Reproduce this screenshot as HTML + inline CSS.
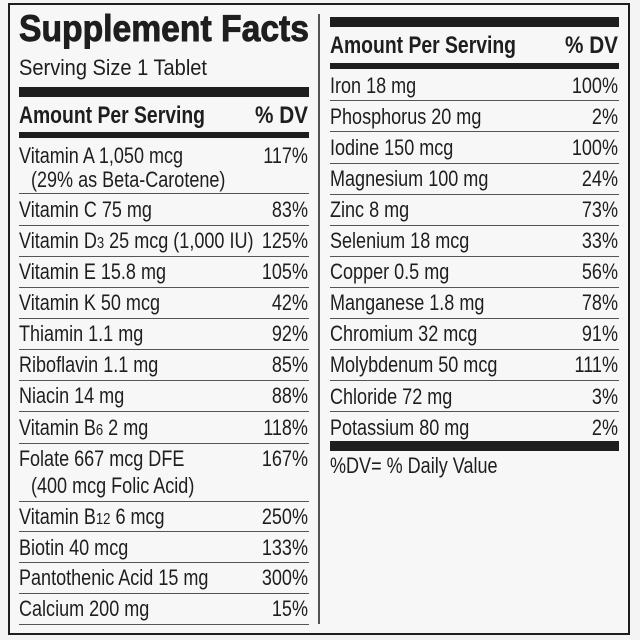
<!DOCTYPE html>
<html><head><meta charset="utf-8"><style>
html,body{margin:0;padding:0;background:#f4f4f4;}
svg{display:block}
text{font-family:"Liberation Sans",sans-serif;fill:#1e1e1e;font-size:22px}
.b{font-weight:bold}
.r{text-anchor:end}
</style></head><body>
<svg width="640" height="640" viewBox="0 0 640 640" xmlns="http://www.w3.org/2000/svg">
<rect x="0" y="0" width="640" height="640" fill="#f4f4f4"/>
<rect x="9" y="4" width="620" height="630" fill="#f7f7f7" stroke="#1e1e1e" stroke-width="2"/>
<line x1="319" y1="14" x2="319" y2="624" stroke="#1e1e1e" stroke-width="1.5"/>
<text x="19" y="41" style="font-weight:900;font-size:37px" class="b" textLength="290" lengthAdjust="spacingAndGlyphs" stroke="#1e1e1e" stroke-width="0.9">Supplement Facts</text>
<text x="19" y="75" textLength="188" lengthAdjust="spacingAndGlyphs">Serving Size 1 Tablet</text>
<rect x="19" y="87" width="290" height="10" fill="#1e1e1e"/>
<text x="19" y="123" class="b" style="font-size:24px" textLength="186" lengthAdjust="spacingAndGlyphs">Amount Per Serving</text>
<text x="255" y="123" class="b" style="font-size:24px" textLength="53" lengthAdjust="spacingAndGlyphs">% DV</text>
<rect x="19" y="132" width="290" height="6" fill="#1e1e1e"/>
<g stroke="#555" stroke-width="1">
<line x1="19" y1="193.5" x2="309" y2="193.5"/><line x1="19" y1="225.5" x2="309" y2="225.5"/>
<line x1="19" y1="256.5" x2="309" y2="256.5"/><line x1="19" y1="287.5" x2="309" y2="287.5"/>
<line x1="19" y1="318.5" x2="309" y2="318.5"/><line x1="19" y1="349.5" x2="309" y2="349.5"/>
<line x1="19" y1="380.5" x2="309" y2="380.5"/><line x1="19" y1="411.5" x2="309" y2="411.5"/>
<line x1="19" y1="443.5" x2="309" y2="443.5"/><line x1="19" y1="501.5" x2="309" y2="501.5"/>
<line x1="19" y1="531.5" x2="309" y2="531.5"/><line x1="19" y1="562.5" x2="309" y2="562.5"/>
<line x1="19" y1="593.5" x2="309" y2="593.5"/><line x1="19" y1="624.5" x2="309" y2="624.5"/>
</g>
<rect x="330" y="17" width="289" height="10" fill="#1e1e1e"/>
<text x="330" y="53" class="b" style="font-size:24px" textLength="186" lengthAdjust="spacingAndGlyphs">Amount Per Serving</text>
<text x="565" y="53" class="b" style="font-size:24px" textLength="53" lengthAdjust="spacingAndGlyphs">% DV</text>
<rect x="330" y="63" width="289" height="6" fill="#1e1e1e"/>
<g stroke="#555" stroke-width="1">
<line x1="330" y1="100.5" x2="619" y2="100.5"/><line x1="330" y1="131.5" x2="619" y2="131.5"/>
<line x1="330" y1="163.5" x2="619" y2="163.5"/><line x1="330" y1="194.5" x2="619" y2="194.5"/>
<line x1="330" y1="225.5" x2="619" y2="225.5"/><line x1="330" y1="256.5" x2="619" y2="256.5"/>
<line x1="330" y1="287.5" x2="619" y2="287.5"/><line x1="330" y1="318.5" x2="619" y2="318.5"/>
<line x1="330" y1="349.5" x2="619" y2="349.5"/><line x1="330" y1="380.5" x2="619" y2="380.5"/>
<line x1="330" y1="411.5" x2="619" y2="411.5"/>
</g>
<rect x="330" y="441" width="289" height="10" fill="#1e1e1e"/>
<g transform="scale(0.82 1)">
<text x="23.17" y="163">Vitamin A 1,050 mcg</text><text x="375.6" y="163" class="r">117%</text>
<text x="37.8" y="187">(29% as Beta-Carotene)</text>
<text x="23.17" y="217">Vitamin C 75 mg</text><text x="375.6" y="217" class="r">83%</text>
<text x="23.17" y="248">Vitamin D<tspan style="font-size:16px">3</tspan> 25 mcg (1,000 IU)</text><text x="375.6" y="248" class="r">125%</text>
<text x="23.17" y="279">Vitamin E 15.8 mg</text><text x="375.6" y="279" class="r">105%</text>
<text x="23.17" y="310">Vitamin K 50 mcg</text><text x="375.6" y="310" class="r">42%</text>
<text x="23.17" y="341">Thiamin 1.1 mg</text><text x="375.6" y="341" class="r">92%</text>
<text x="23.17" y="372">Riboflavin 1.1 mg</text><text x="375.6" y="372" class="r">85%</text>
<text x="23.17" y="403">Niacin 14 mg</text><text x="375.6" y="403" class="r">88%</text>
<text x="23.17" y="435">Vitamin B<tspan style="font-size:16px">6</tspan> 2 mg</text><text x="375.6" y="435" class="r">118%</text>
<text x="23.17" y="466">Folate 667 mcg DFE</text><text x="375.6" y="466" class="r">167%</text>
<text x="37.8" y="493">(400 mcg Folic Acid)</text>
<text x="23.17" y="524">Vitamin B<tspan style="font-size:16px">12</tspan> 6 mcg</text><text x="375.6" y="524" class="r">250%</text>
<text x="23.17" y="555">Biotin 40 mcg</text><text x="375.6" y="555" class="r">133%</text>
<text x="23.17" y="585">Pantothenic Acid 15 mg</text><text x="375.6" y="585" class="r">300%</text>
<text x="23.17" y="616">Calcium 200 mg</text><text x="375.6" y="616" class="r">15%</text>

<text x="402.44" y="93">Iron 18 mg</text><text x="753.66" y="93" class="r">100%</text>
<text x="402.44" y="124">Phosphorus 20 mg</text><text x="753.66" y="124" class="r">2%</text>
<text x="402.44" y="155">Iodine 150 mcg</text><text x="753.66" y="155" class="r">100%</text>
<text x="402.44" y="186">Magnesium 100 mg</text><text x="753.66" y="186" class="r">24%</text>
<text x="402.44" y="217">Zinc 8 mg</text><text x="753.66" y="217" class="r">73%</text>
<text x="402.44" y="248">Selenium 18 mcg</text><text x="753.66" y="248" class="r">33%</text>
<text x="402.44" y="279">Copper 0.5 mg</text><text x="753.66" y="279" class="r">56%</text>
<text x="402.44" y="310">Manganese 1.8 mg</text><text x="753.66" y="310" class="r">78%</text>
<text x="402.44" y="341">Chromium 32 mcg</text><text x="753.66" y="341" class="r">91%</text>
<text x="402.44" y="372">Molybdenum 50 mcg</text><text x="753.66" y="372" class="r">111%</text>
<text x="402.44" y="404">Chloride 72 mg</text><text x="753.66" y="404" class="r">3%</text>
<text x="402.44" y="435">Potassium 80 mg</text><text x="753.66" y="435" class="r">2%</text>
<text x="402.44" y="473">%DV= % Daily Value</text>
</g>
</svg>
</body></html>
